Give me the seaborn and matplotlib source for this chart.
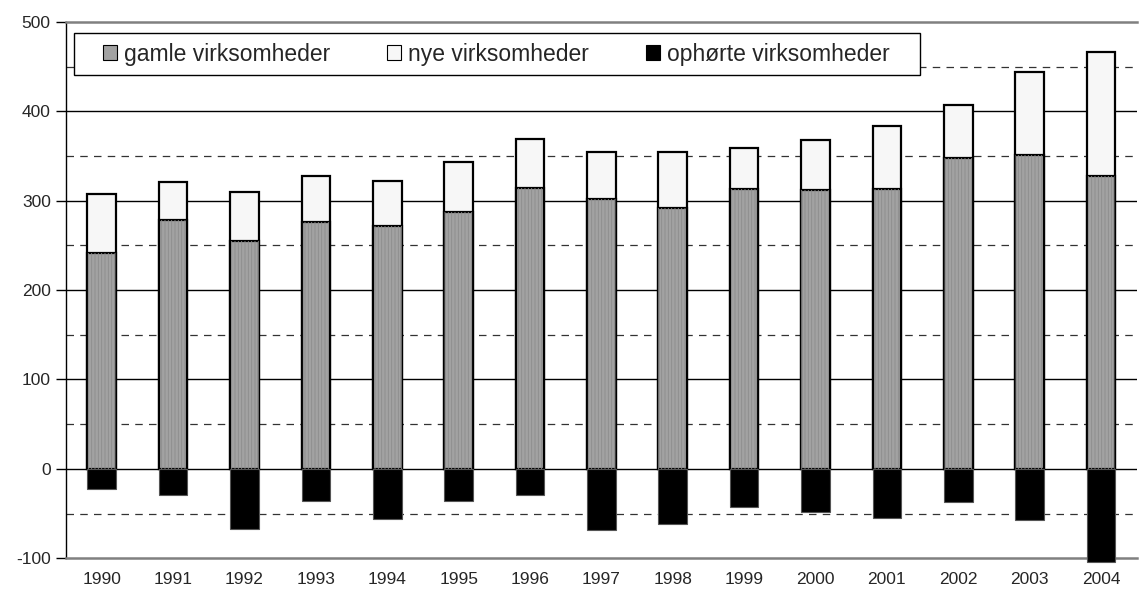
import matplotlib
matplotlib.use("Agg")
import matplotlib.pyplot as plt
from matplotlib.patches import Patch, Rectangle
import seaborn as sns
import pandas as pd
import numpy as np

# Data
years = ['1990', '1991', '1992', '1993', '1994', '1995', '1996', '1997',
         '1998', '1999', '2000', '2001', '2002', '2003', '2004']
gamle = [242, 278, 255, 276, 272, 287, 314, 302, 292, 313, 312, 313, 348, 351, 328]
nye = [65, 43, 55, 52, 50, 56, 55, 52, 63, 46, 56, 71, 59, 93, 138]
ophorte = [-22, -29, -67, -36, -56, -36, -29, -68, -62, -43, -48, -55, -37, -57, -104]

labels = ['gamle virksomheder', 'nye virksomheder', 'ophørte virksomheder']

sns.set_theme(style="white")
plt.rcParams['font.family'] = ['Liberation Sans', 'DejaVu Sans']
plt.rcParams['axes.unicode_minus'] = False
plt.rcParams['hatch.linewidth'] = 0.6

df = pd.DataFrame({'year': years, 'gamle': gamle, 'nye': nye, 'ophorte': ophorte})
df['total'] = df['gamle'] + df['nye']

fig, ax = plt.subplots(figsize=(11.39, 5.92), dpi=100)
fig.subplots_adjust(left=0.058, right=0.998, top=0.963, bottom=0.057)

# gridlines: solid every 100, dashed at the 50s
for v in [0, 100, 200, 300, 400]:
    ax.axhline(v, color='black', lw=1.0, zorder=0)
for v in [-50, 50, 150, 250, 350, 450]:
    ax.axhline(v, color='#333333', lw=0.9, ls=(0, (6, 5)), zorder=0)

# stacked bars: total (white) first, then old firms on top
sns.barplot(data=df, x='year', y='total', color='#f7f7f7', saturation=1,
            edgecolor='black', linewidth=1.6, width=0.4, ax=ax, zorder=2)
sns.barplot(data=df, x='year', y='gamle', color='#a2a2a2', saturation=1,
            edgecolor='black', linewidth=1.6, width=0.4, ax=ax, zorder=3)
sns.barplot(data=df, x='year', y='gamle', color='none', saturation=1,
            edgecolor='#8c8c8c', hatch='|||||', linewidth=0, width=0.4, ax=ax, zorder=3.5)
sns.barplot(data=df, x='year', y='ophorte', color='black', saturation=1,
            edgecolor='#555555', linewidth=0.8, width=0.4, ax=ax, zorder=3,
            clip_on=False)

ax.set_xlim(-0.5, 14.5)
ax.set_ylim(-100, 500)
ax.set_yticks(np.arange(-100, 501, 100))
ax.set_xlabel('')
ax.set_ylabel('')
ax.tick_params(axis='y', length=7, width=1, color='black', left=True, labelsize=12.5, pad=4)
ax.tick_params(axis='x', length=0, labelsize=12.5, pad=10)

for s in ['top', 'bottom']:
    ax.spines[s].set_color('#808080')
    ax.spines[s].set_linewidth(1.8)
ax.spines['left'].set_color('black')
ax.spines['left'].set_linewidth(1.0)
ax.spines['right'].set_visible(False)

# legend box drawn as a plain rectangle, legend entries without frame
ax.add_patch(Rectangle((0.0075, 0.901), 0.7905, 0.078, transform=ax.transAxes,
                       facecolor='white', edgecolor='black', lw=1.0, zorder=5))
handles = [Patch(facecolor='#a2a2a2', edgecolor='black', lw=0.8),
           Patch(facecolor='#f7f7f7', edgecolor='black', lw=0.8),
           Patch(facecolor='black', edgecolor='black', lw=0.8)]
leg = ax.legend(handles, labels, ncol=3, loc='center left',
                bbox_to_anchor=(0.0345, 0.940), frameon=False,
                fontsize=16.5, handlelength=0.62, handleheight=0.62,
                handletextpad=0.28, columnspacing=2.5,
                borderaxespad=0, borderpad=0)
leg.set_zorder(6)

fig.savefig('out.png', dpi=100)
